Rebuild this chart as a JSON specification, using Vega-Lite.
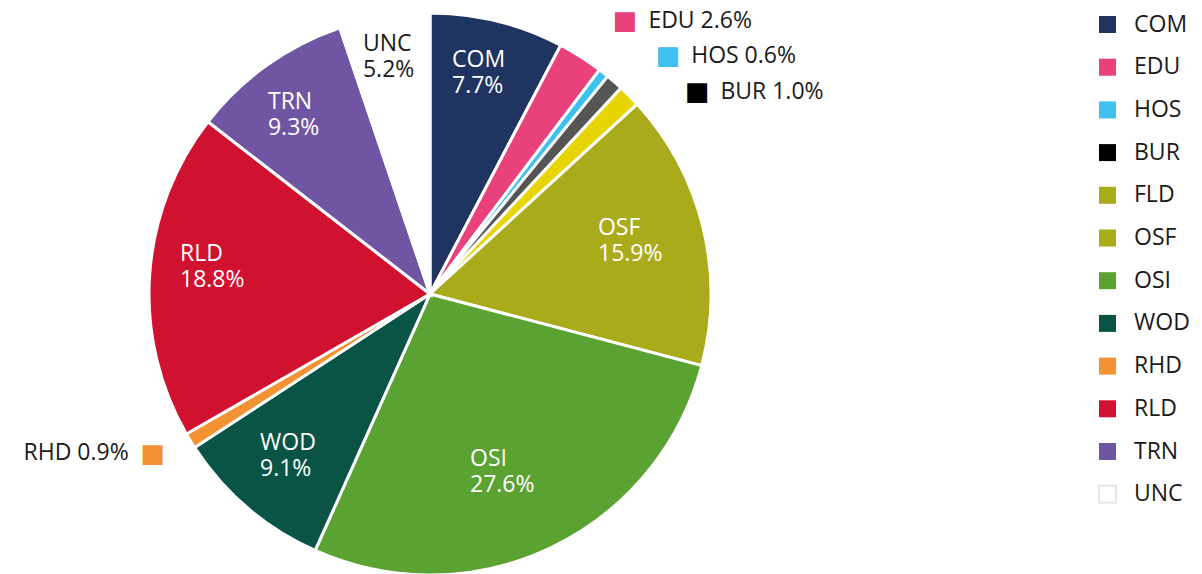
{
  "$schema": "https://vega.github.io/schema/vega-lite/v6.json",
  "width": 860,
  "height": 560,
  "autosize": {"type": "none"},
  "padding": {"left": 0, "top": 14, "right": 342, "bottom": 0},
  "background": "white",
  "config": {
    "view": {"stroke": null},
    "font": "Open Sans",
    "text": {"font": "Open Sans", "fontSize": 23}
  },
  "data": {
    "values": [
      {"idx": 1, "cat": "COM", "value": 7.7, "inLabel": "COM\n7.7%", "outLabel": ""},
      {"idx": 2, "cat": "EDU", "value": 2.6, "inLabel": "", "outLabel": "EDU 2.6%"},
      {"idx": 3, "cat": "HOS", "value": 0.6, "inLabel": "", "outLabel": "HOS 0.6%"},
      {"idx": 4, "cat": "BUR", "value": 1.0, "inLabel": "", "outLabel": "BUR 1.0%"},
      {"idx": 5, "cat": "FLD", "value": 1.3, "inLabel": "", "outLabel": ""},
      {"idx": 6, "cat": "OSF", "value": 15.9, "inLabel": "OSF\n15.9%", "outLabel": ""},
      {"idx": 7, "cat": "OSI", "value": 27.6, "inLabel": "OSI\n27.6%", "outLabel": ""},
      {"idx": 8, "cat": "WOD", "value": 9.1, "inLabel": "WOD\n9.1%", "outLabel": ""},
      {"idx": 9, "cat": "RHD", "value": 0.9, "inLabel": "", "outLabel": "RHD 0.9%"},
      {"idx": 10, "cat": "RLD", "value": 18.8, "inLabel": "RLD\n18.8%", "outLabel": ""},
      {"idx": 11, "cat": "TRN", "value": 9.3, "inLabel": "TRN\n9.3%", "outLabel": ""},
      {"idx": 12, "cat": "UNC", "value": 5.2, "inLabel": "UNC\n5.2%", "outLabel": ""}
    ]
  },
  "encoding": {
    "theta": {"field": "value", "type": "quantitative", "stack": true},
    "order": {"field": "idx", "type": "quantitative"},
    "detail": {"field": "cat", "type": "nominal"}
  },
  "layer": [
    {
      "mark": {"type": "arc", "radius": 281},
      "encoding": {
        "color": {
          "field": "cat",
          "type": "nominal",
          "scale": {
            "domain": ["COM", "EDU", "HOS", "BUR", "FLD", "OSF", "OSI", "WOD", "RHD", "RLD", "TRN", "UNC"],
            "range": ["#1f3461", "#e8417b", "#3ec1ee", "#000000", "#aaab1a", "#aaab1a", "#5aa333", "#0a5446", "#f39233", "#d11130", "#7056a2", "#ffffff"]
          },
          "legend": {
            "orient": "none",
            "legendX": 1096,
            "legendY": -1,
            "title": null,
            "symbolType": "square",
            "symbolSize": 289,
            "labelFont": "Open Sans",
            "labelFontSize": 23,
            "labelColor": "#1a1a1a",
            "rowPadding": 17.7,
            "labelOffset": 15,
            "symbolStrokeWidth": 2,
            "encode": {
              "symbols": {
                "update": {
                  "stroke": {"signal": "datum.value === 'UNC' ? '#e6e6e6' : 'transparent'"}
                }
              }
            }
          }
        }
      }
    },
    {
      "mark": {"type": "arc", "radius": 281, "stroke": "white", "strokeWidth": 3},
      "encoding": {
        "fill": {
          "field": "cat",
          "type": "nominal",
          "scale": {
            "domain": ["COM", "EDU", "HOS", "BUR", "FLD", "OSF", "OSI", "WOD", "RHD", "RLD", "TRN", "UNC"],
            "range": ["#1f3461", "#e8417b", "#3ec1ee", "#555555", "#e8d400", "#aaab1a", "#5aa333", "#0a5446", "#f39233", "#d11130", "#7056a2", "#ffffff"]
          },
          "legend": null
        }
      }
    },
    {
      "mark": {"type": "text", "radius": 200, "align": "left", "baseline": "middle", "lineBreak": "\n", "lineHeight": 26.6, "dx": -25.9, "dy": -40.1, "fill": "white"},
      "encoding": {"text": {"condition": {"test": "datum.cat === 'COM'", "field": "inLabel", "type": "nominal"}, "value": ""}}
    },
    {
      "mark": {"type": "text", "radius": 200, "align": "left", "baseline": "middle", "lineBreak": "\n", "lineHeight": 26.6, "dx": -26.2, "dy": -18.4, "fill": "white"},
      "encoding": {"text": {"condition": {"test": "datum.cat === 'OSF'", "field": "inLabel", "type": "nominal"}, "value": ""}}
    },
    {
      "mark": {"type": "text", "radius": 200, "align": "left", "baseline": "middle", "lineBreak": "\n", "lineHeight": 26.6, "dx": -46.3, "dy": -15.7, "fill": "white"},
      "encoding": {"text": {"condition": {"test": "datum.cat === 'OSI'", "field": "inLabel", "type": "nominal"}, "value": ""}}
    },
    {
      "mark": {"type": "text", "radius": 200, "align": "left", "baseline": "middle", "lineBreak": "\n", "lineHeight": 26.6, "dx": -40.1, "dy": -3.4, "fill": "white"},
      "encoding": {"text": {"condition": {"test": "datum.cat === 'WOD'", "field": "inLabel", "type": "nominal"}, "value": ""}}
    },
    {
      "mark": {"type": "text", "radius": 200, "align": "left", "baseline": "middle", "lineBreak": "\n", "lineHeight": 26.6, "dx": -50.5, "dy": -26.5, "fill": "white"},
      "encoding": {"text": {"condition": {"test": "datum.cat === 'RLD'", "field": "inLabel", "type": "nominal"}, "value": ""}}
    },
    {
      "mark": {"type": "text", "radius": 200, "align": "left", "baseline": "middle", "lineBreak": "\n", "lineHeight": 26.6, "dx": -46, "dy": -29.4, "fill": "white"},
      "encoding": {"text": {"condition": {"test": "datum.cat === 'TRN'", "field": "inLabel", "type": "nominal"}, "value": ""}}
    },
    {
      "mark": {"type": "text", "radius": 200, "align": "left", "baseline": "middle", "lineBreak": "\n", "lineHeight": 26.6, "dx": -34.5, "dy": -53, "fill": "#1a1a1a"},
      "encoding": {"text": {"condition": {"test": "datum.cat === 'UNC'", "field": "inLabel", "type": "nominal"}, "value": ""}}
    },
    {
      "mark": {"type": "text", "radius": 290, "align": "left", "baseline": "middle", "dx": 63, "dy": -28.2, "fill": "#1a1a1a"},
      "encoding": {"text": {"condition": {"test": "datum.cat === 'EDU'", "field": "outLabel", "type": "nominal"}, "value": ""}}
    },
    {
      "mark": {"type": "text", "radius": 290, "align": "left", "baseline": "middle", "dx": 82, "dy": -9.5, "fill": "#1a1a1a"},
      "encoding": {"text": {"condition": {"test": "datum.cat === 'HOS'", "field": "outLabel", "type": "nominal"}, "value": ""}}
    },
    {
      "mark": {"type": "text", "radius": 290, "align": "left", "baseline": "middle", "dx": 100, "dy": 16.4, "fill": "#1a1a1a"},
      "encoding": {"text": {"condition": {"test": "datum.cat === 'BUR'", "field": "outLabel", "type": "nominal"}, "value": ""}}
    },
    {
      "mark": {"type": "text", "radius": 290, "align": "right", "baseline": "middle", "dx": -54, "dy": 7.5, "fill": "#1a1a1a"},
      "encoding": {"text": {"condition": {"test": "datum.cat === 'RHD'", "field": "outLabel", "type": "nominal"}, "value": ""}}
    },
    {
      "mark": {"type": "text", "radius": 290, "align": "center", "baseline": "middle", "dx": 39.6, "dy": -28.2, "font": "DejaVu Sans", "fontSize": 26},
      "encoding": {
        "text": {"condition": {"test": "datum.cat === 'EDU'", "value": "■"}, "value": ""},
        "color": {"field": "cat", "type": "nominal"}
      }
    },
    {
      "mark": {"type": "text", "radius": 290, "align": "center", "baseline": "middle", "dx": 58.8, "dy": -9.5, "font": "DejaVu Sans", "fontSize": 26},
      "encoding": {
        "text": {"condition": {"test": "datum.cat === 'HOS'", "value": "■"}, "value": ""},
        "color": {"field": "cat", "type": "nominal"}
      }
    },
    {
      "mark": {"type": "text", "radius": 290, "align": "center", "baseline": "middle", "dx": 76.9, "dy": 16.4, "font": "DejaVu Sans", "fontSize": 26},
      "encoding": {
        "text": {"condition": {"test": "datum.cat === 'BUR'", "value": "■"}, "value": ""},
        "color": {"field": "cat", "type": "nominal"}
      }
    },
    {
      "mark": {"type": "text", "radius": 290, "align": "center", "baseline": "middle", "dx": -29.9, "dy": 8, "font": "DejaVu Sans", "fontSize": 26},
      "encoding": {
        "text": {"condition": {"test": "datum.cat === 'RHD'", "value": "■"}, "value": ""},
        "color": {"field": "cat", "type": "nominal"}
      }
    }
  ]
}
